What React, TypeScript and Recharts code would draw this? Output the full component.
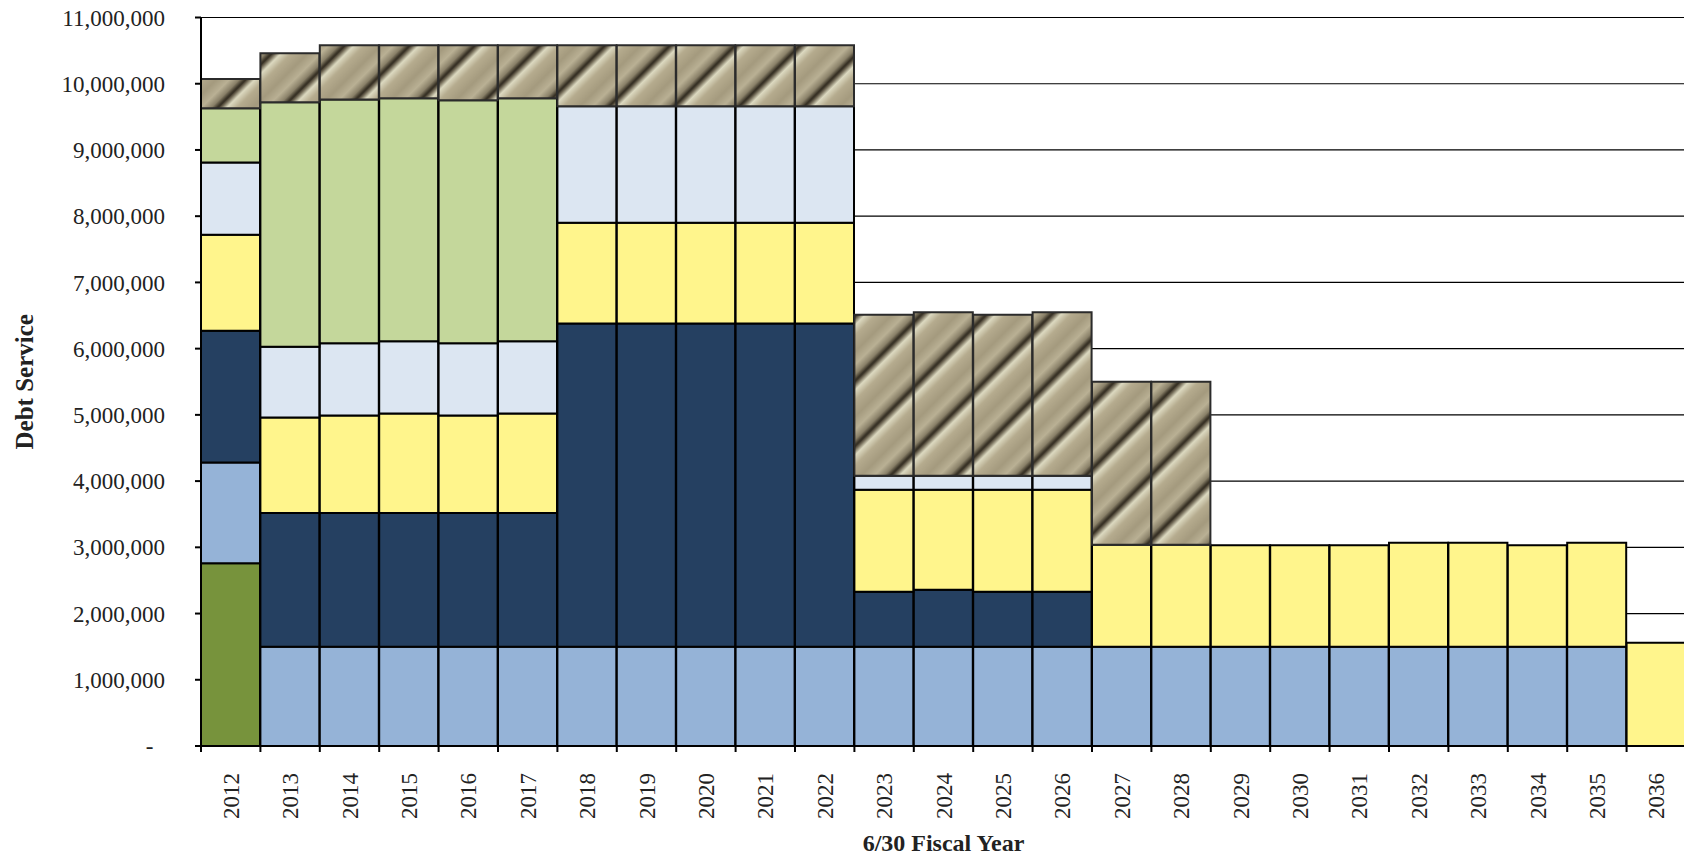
import React from "react";
import { BarChart, Bar, XAxis, YAxis, CartesianGrid } from "recharts";

const years = [
  "2012", "2013", "2014", "2015", "2016", "2017", "2018", "2019", "2020",
  "2021", "2022", "2023", "2024", "2025", "2026", "2027", "2028", "2029",
  "2030", "2031", "2032", "2033", "2034", "2035", "2036",
];

// stacked segments, bottom to top
const darkGreen = [2760000, 0, 0, 0, 0, 0, 0, 0, 0, 0, 0, 0, 0, 0, 0, 0, 0, 0, 0, 0, 0, 0, 0, 0, 0];
const lightBlue = [
  1520000, 1500000, 1500000, 1500000, 1500000, 1500000, 1500000, 1500000, 1500000,
  1500000, 1500000, 1500000, 1500000, 1500000, 1500000, 1500000, 1500000, 1500000,
  1500000, 1500000, 1500000, 1500000, 1500000, 1500000, 0,
];
const navy = [
  1990000, 2020000, 2020000, 2020000, 2020000, 2020000, 4880000, 4880000, 4880000,
  4880000, 4880000, 830000, 860000, 830000, 830000, 0, 0, 0, 0, 0, 0, 0, 0, 0, 0,
];
const yellow = [
  1450000, 1440000, 1470000, 1500000, 1470000, 1500000, 1520000, 1520000, 1520000,
  1520000, 1520000, 1540000, 1510000, 1540000, 1540000, 1540000, 1540000, 1530000,
  1530000, 1530000, 1570000, 1570000, 1530000, 1570000, 1560000,
];
const paleBlue = [
  1090000, 1070000, 1090000, 1090000, 1090000, 1090000, 1760000, 1760000, 1760000,
  1760000, 1760000, 210000, 210000, 210000, 210000, 0, 0, 0, 0, 0, 0, 0, 0, 0, 0,
];
const lightGreen = [
  820000, 3690000, 3680000, 3670000, 3670000, 3670000, 0, 0, 0, 0, 0, 0, 0, 0, 0,
  0, 0, 0, 0, 0, 0, 0, 0, 0, 0,
];
const hatched = [
  440000, 740000, 820000, 800000, 830000, 800000, 920000, 920000, 920000, 920000,
  920000, 2430000, 2470000, 2430000, 2470000, 2460000, 2460000, 0, 0, 0, 0, 0, 0, 0, 0,
];

const yTicks = [
  0, 1000000, 2000000, 3000000, 4000000, 5000000, 6000000, 7000000, 8000000,
  9000000, 10000000, 11000000,
];

const data = years.map((year, i) => ({
  year,
  darkGreen: darkGreen[i],
  lightBlue: lightBlue[i],
  navy: navy[i],
  yellow: yellow[i],
  paleBlue: paleBlue[i],
  lightGreen: lightGreen[i],
  hatched: hatched[i],
}));

const FONT = "'Liberation Serif', 'DejaVu Serif', serif";
const CHART_W = 1690;
const CHART_H = 859;
const Y_AXIS_W = 201;
const MARGIN_RIGHT = 4;
const BAND = (CHART_W - Y_AXIS_W - MARGIN_RIGHT) / years.length;

const XTick = (props: any) => {
  const { x, y, payload, index } = props;
  const half = BAND / 2;
  return (
    <g transform={`translate(${x},${y})`}>
      <line x1={-half} x2={-half} y1={0} y2={6} stroke="#000" strokeWidth={2} />
      {index === years.length - 1 && (
        <line x1={half} x2={half} y1={0} y2={6} stroke="#000" strokeWidth={2} />
      )}
      <text
        transform="rotate(-90)"
        x={-27}
        y={0}
        dy="0.35em"
        textAnchor="end"
        fill="#222"
        fontSize={23}
        fontFamily={FONT}
      >
        {payload.value}
      </text>
    </g>
  );
};

const formatY = (v: number) =>
  v === 0 ? "-\u00A0\u00A0" : v.toLocaleString("en-US");

const seriesStyle = [
  { key: "darkGreen", fill: "#77933C", stroke: "#000" },
  { key: "lightBlue", fill: "#95B3D7", stroke: "#000" },
  { key: "navy", fill: "#254061", stroke: "#000" },
  { key: "yellow", fill: "#FFF58C", stroke: "#000" },
  { key: "paleBlue", fill: "#DCE6F2", stroke: "#000" },
  { key: "lightGreen", fill: "#C4D79B", stroke: "#000" },
  { key: "hatched", fill: "url(#hatchTexture)", stroke: "#2b2b2b" },
];

export default function App() {
  return (
    <div
      style={{
        position: "absolute",
        left: 0,
        top: 0,
        width: 1684,
        height: CHART_H,
        overflow: "hidden",
        background: "#fff",
      }}
    >
      <BarChart
        width={CHART_W}
        height={CHART_H}
        data={data}
        margin={{ top: 17.5, right: MARGIN_RIGHT, bottom: 0, left: 0 }}
        barCategoryGap={0}
        barGap={0}
      >
        <defs>
          <linearGradient id="hatchGrad" x1="0" y1="0" x2="1" y2="0">
            <stop offset="0" stopColor="#2e281d" />
            <stop offset="0.05" stopColor="#6b6350" />
            <stop offset="0.14" stopColor="#dcd9c0" />
            <stop offset="0.3" stopColor="#b5ab8e" />
            <stop offset="0.55" stopColor="#a49a7e" />
            <stop offset="0.75" stopColor="#b9b094" />
            <stop offset="0.9" stopColor="#8a8169" />
            <stop offset="1" stopColor="#2e281d" />
          </linearGradient>
          <pattern
            id="hatchTexture"
            patternUnits="userSpaceOnUse"
            width={46}
            height={46}
            patternTransform="rotate(45)"
          >
            <rect width={46} height={46} fill="url(#hatchGrad)" />
          </pattern>
        </defs>
        <CartesianGrid vertical={false} stroke="#000" strokeWidth={1.2} />
        <XAxis
          dataKey="year"
          height={113}
          interval={0}
          tickSize={0}
          tickMargin={0}
          tickLine={false}
          axisLine={{ stroke: "#000", strokeWidth: 2 }}
          tick={<XTick />}
          label={{
            value: "6/30 Fiscal Year",
            position: "insideBottom",
            offset: 8,
            style: { fontFamily: FONT, fontSize: 24, fontWeight: "bold", fill: "#222" },
          }}
        />
        <YAxis
          width={Y_AXIS_W}
          domain={[0, 11000000]}
          ticks={yTicks}
          interval={0}
          tickSize={6}
          tickMargin={30}
          tickLine={{ stroke: "#000", strokeWidth: 2 }}
          axisLine={{ stroke: "#000", strokeWidth: 2 }}
          tickFormatter={formatY}
          tick={{ fontFamily: FONT, fontSize: 23, fill: "#222" }}
          label={{
            value: "Debt Service",
            angle: -90,
            position: "insideLeft",
            offset: 24,
            style: {
              textAnchor: "middle",
              fontFamily: FONT,
              fontSize: 25,
              fontWeight: "bold",
              fill: "#222",
            },
          }}
        />
        {seriesStyle.map((s) => (
          <Bar
            key={s.key}
            dataKey={s.key}
            stackId="debt"
            fill={s.fill}
            stroke={s.stroke}
            strokeWidth={2}
            isAnimationActive={false}
          />
        ))}
      </BarChart>
    </div>
  );
}
